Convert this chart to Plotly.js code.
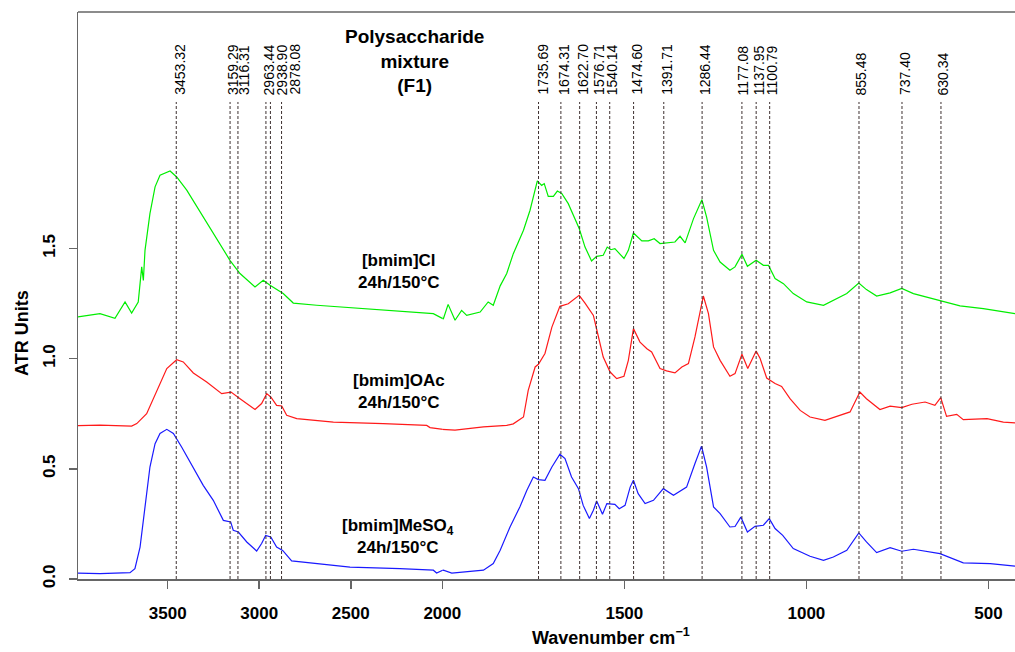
<!DOCTYPE html>
<html>
<head>
<meta charset="utf-8">
<script src="https://cdn.plot.ly/plotly-3.0.1.min.js"></script>
<style>html,body{margin:0;padding:0;background:#fff;}#chart{width:1015px;height:652px;}</style>
</head>
<body>
<div id="chart"></div>
<script>
// ---- data ----
const clWn = [3990,3870,3788,3733,3697,3661,3642,3633,3624,3597,3569,3542,3487,3451,3396,3324,3251,3160,3105,3023,2978,2941,2869,2814,2686,2504,2322,2104,2049,1997,1984,1965,1947,1933,1896,1874,1860,1841,1823,1805,1777,1759,1739,1727,1720,1709,1695,1684,1672,1654,1640,1624,1608,1590,1576,1558,1547,1537,1526,1501,1489,1475,1452,1434,1418,1402,1361,1347,1333,1310,1287,1274,1255,1237,1210,1196,1177,1162,1138,1118,1104,1086,1063,1036,999,953,889,856,835,807,770,738,706,633,578,514,427];
const clVal = [1.189,1.204,1.183,1.257,1.207,1.257,1.416,1.355,1.491,1.658,1.779,1.832,1.851,1.824,1.764,1.665,1.567,1.446,1.386,1.325,1.355,1.333,1.295,1.252,1.242,1.231,1.219,1.207,1.204,1.181,1.246,1.174,1.219,1.196,1.211,1.257,1.242,1.330,1.386,1.476,1.582,1.673,1.806,1.786,1.794,1.736,1.736,1.760,1.749,1.703,1.650,1.590,1.506,1.443,1.464,1.469,1.506,1.494,1.499,1.454,1.491,1.570,1.534,1.534,1.544,1.522,1.529,1.555,1.525,1.635,1.721,1.642,1.491,1.438,1.401,1.416,1.473,1.419,1.446,1.423,1.423,1.363,1.340,1.295,1.257,1.242,1.295,1.343,1.313,1.284,1.298,1.318,1.295,1.265,1.239,1.227,1.204];

const oacWn = [3990,3870,3697,3669,3615,3560,3505,3451,3415,3360,3287,3205,3154,3105,3023,2987,2959,2937,2905,2877,2850,2795,2595,2322,2085,2067,1965,1887,1823,1805,1777,1764,1745,1736,1718,1699,1677,1654,1624,1608,1585,1571,1558,1539,1521,1501,1489,1475,1457,1438,1425,1402,1384,1361,1342,1324,1306,1283,1269,1255,1237,1210,1196,1177,1161,1138,1127,1109,1086,1068,1045,1017,990,949,880,853,835,798,770,738,710,674,647,631,615,587,569,504,459,427];
const oacVal = [0.696,0.698,0.694,0.705,0.750,0.856,0.955,0.995,0.985,0.935,0.894,0.841,0.848,0.818,0.769,0.796,0.841,0.826,0.788,0.785,0.743,0.728,0.712,0.705,0.697,0.687,0.675,0.690,0.697,0.704,0.735,0.856,0.962,0.974,1.023,1.143,1.237,1.249,1.287,1.252,1.196,1.098,1.007,0.939,0.909,0.920,0.992,1.136,1.075,1.045,1.030,0.955,0.944,0.935,0.962,0.977,1.098,1.284,1.204,1.053,0.992,0.920,0.932,1.020,0.955,1.034,1.000,0.912,0.887,0.874,0.818,0.765,0.735,0.720,0.758,0.848,0.818,0.769,0.784,0.778,0.793,0.803,0.788,0.823,0.738,0.747,0.723,0.728,0.712,0.708];

const mesWn = [3990,3870,3706,3679,3651,3624,3597,3569,3542,3505,3469,3424,3360,3306,3251,3196,3156,3142,3114,3068,3014,2987,2965,2937,2905,2872,2823,2686,2504,2231,2049,2031,1997,1974,1887,1860,1841,1814,1787,1768,1750,1736,1718,1699,1677,1663,1645,1626,1613,1596,1585,1576,1560,1548,1526,1514,1498,1484,1475,1462,1443,1420,1393,1365,1342,1329,1306,1288,1274,1255,1237,1210,1196,1180,1162,1141,1118,1102,1086,1065,1036,990,953,926,889,856,835,807,770,738,706,633,569,495,427];
const mesVal = [0.027,0.024,0.029,0.047,0.145,0.327,0.508,0.614,0.660,0.679,0.660,0.599,0.501,0.425,0.357,0.266,0.259,0.221,0.213,0.168,0.127,0.161,0.198,0.191,0.145,0.130,0.082,0.070,0.054,0.047,0.040,0.027,0.040,0.027,0.040,0.070,0.130,0.236,0.327,0.402,0.463,0.451,0.448,0.508,0.566,0.546,0.463,0.410,0.334,0.274,0.312,0.354,0.294,0.342,0.339,0.319,0.334,0.417,0.448,0.387,0.342,0.357,0.410,0.380,0.402,0.417,0.524,0.603,0.508,0.327,0.297,0.236,0.238,0.281,0.213,0.239,0.244,0.274,0.229,0.198,0.138,0.103,0.085,0.100,0.130,0.209,0.168,0.120,0.142,0.126,0.135,0.115,0.073,0.070,0.058];

const peaks = [3453.32,3159.29,3116.31,2963.44,2938.90,2878.08,1735.69,1674.31,1622.70,1576.71,1540.14,1474.60,1391.71,1286.44,1177.08,1137.95,1100.79,855.48,737.40,630.34];
const peakLabels = ["3453.32","3159.29","3116.31","2963.44","2938.90","2878.08","1735.69","1674.31","1622.70","1576.71","1540.14","1474.60","1391.71","1286.44","1177.08","1137.95","1100.79","855.48","737.40","630.34"];

const xTicksHigh = [3500,3000,2500,2000];
const xTicksLow = [1500,1000,500];
const yTicks = [0,0.5,1.0,1.5];
const yTickText = ["0.0","0.5","1.0","1.5"];

// ---- styling ----
const FONT = "Liberation Sans, Arial, Helvetica, sans-serif";
const AX = "#666666";
const SPLIT = 0.38879;
// pixel nudges of the rotated peak labels (spread apart where crowded)
const labelShift = [3,2.5,6,3,11.5,12.5,3.5,2.5,2.5,2,2,2.5,2.5,2.5,1.5,3,2.5,2,2.5,2];

const series = [
  {x: clWn, y: clVal, color: "#00ee00"},
  {x: oacWn, y: oacVal, color: "#ff1a1a"},
  {x: mesWn, y: mesVal, color: "#1a1aff"}
];

const traces = [];
series.forEach(s => {
  ["x","x2"].forEach(ax => {
    traces.push({type:"scatter", mode:"lines", x:s.x, y:s.y, xaxis:ax, yaxis:"y",
      line:{color:s.color, width:1.2}, hoverinfo:"skip", showlegend:false});
  });
});

const shapes = [];
const annotations = [];
peaks.forEach((p, i) => {
  const xr = p >= 2000 ? "x" : "x2";
  shapes.push({type:"line", xref:xr, yref:"paper", x0:p, x1:p, y0:0, y1:0.8413,
    line:{color:"#3d3030", width:1, dash:"3px,2px"}, layer:"above"});
  annotations.push({xref:xr, yref:"paper", x:p, y:(579-96)/567, text:peakLabels[i],
    textangle:-90, showarrow:false, xanchor:"center", yanchor:"bottom", xshift:labelShift[i],
    font:{family:FONT, size:14, color:"#000"}, borderpad:0});
});

// box top line
shapes.push({type:"line", xref:"paper", yref:"paper", x0:0, x1:1.02, y0:1, y1:1,
  line:{color:AX, width:1.5}});

annotations.push({xref:"paper", yref:"paper", x:(414-78)/937, y:(579-61)/567,
  text:"Polysaccharide<br>mixture<br>(F1)", showarrow:false, xanchor:"center", yanchor:"middle",
  font:{family:FONT, size:19, color:"#000", weight:"bold"}});
annotations.push({xref:"paper", yref:"paper", x:(398-78)/937, y:(579-271)/567,
  text:"[bmim]Cl<br>24h/150°C", showarrow:false, xanchor:"center", yanchor:"middle",
  font:{family:FONT, size:17, color:"#000", weight:"bold"}});
annotations.push({xref:"paper", yref:"paper", x:(399-78)/937, y:(579-391)/567,
  text:"[bmim]OAc<br>24h/150°C", showarrow:false, xanchor:"center", yanchor:"middle",
  font:{family:FONT, size:17, color:"#000", weight:"bold"}});
annotations.push({xref:"paper", yref:"paper", x:(398-78)/937, y:(579-536.5)/567,
  text:"[bmim]MeSO<sub>4</sub><br>24h/150°C", showarrow:false, xanchor:"center", yanchor:"middle",
  font:{family:FONT, size:17, color:"#000", weight:"bold"}});
annotations.push({xref:"paper", yref:"paper", x:(22-78)/937, y:(579-333)/567,
  text:"ATR Units", textangle:-90, showarrow:false, xanchor:"center", yanchor:"middle",
  font:{family:FONT, size:18, color:"#000", weight:"bold"}});
annotations.push({xref:"paper", yref:"paper", x:(611-78)/937, y:(579-637)/567,
  text:"Wavenumber cm<sup>−1</sup>", showarrow:false, xanchor:"center", yanchor:"middle",
  font:{family:FONT, size:18, color:"#000", weight:"bold"}});

const axCommon = {showline:true, linecolor:AX, linewidth:1.5, ticks:"outside", ticklen:8,
  tickcolor:AX, tickwidth:1.5, showgrid:false, zeroline:false, fixedrange:true,
  tickfont:{family:FONT, size:17, color:"#000", weight:"bold"}};

const layout = {
  width:1015, height:652,
  margin:{l:78, r:0, t:12, b:73, pad:0},
  paper_bgcolor:"#fff", plot_bgcolor:"#fff",
  showlegend:false,
  xaxis: Object.assign({}, axCommon, {domain:[0, SPLIT], range:[3990, 2000], tickmode:"array",
    tickvals:xTicksHigh, ticktext:xTicksHigh.map(String), anchor:"y", ticklabelstandoff:10}),
  xaxis2: Object.assign({}, axCommon, {domain:[SPLIT, 1], range:[2000, 427], tickmode:"array",
    tickvals:xTicksLow, ticktext:xTicksLow.map(String), anchor:"y", ticklabelstandoff:10}),
  yaxis: Object.assign({}, axCommon, {range:[0, 2.5725], tickmode:"array", tickvals:yTicks,
    ticktext:yTickText, tickangle:-90, anchor:"x", ticklabelstandoff:7}),
  shapes: shapes,
  annotations: annotations
};

Plotly.newPlot("chart", traces, layout, {staticPlot:true, displayModeBar:false});
</script>
</body>
</html>
